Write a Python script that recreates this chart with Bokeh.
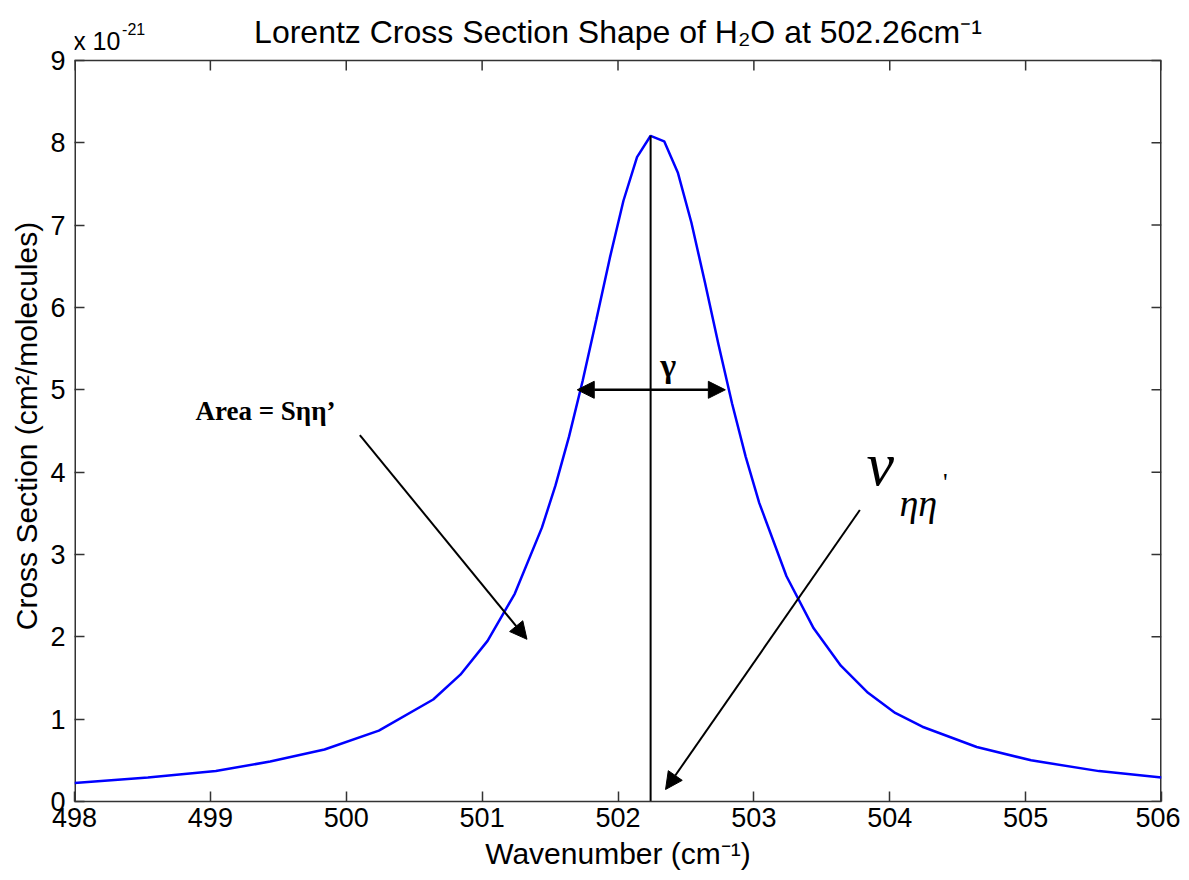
from bokeh.plotting import figure
from bokeh.models import (Label, Arrow, NormalHead, FixedTicker, Range1d, Span)
from bokeh.embed import file_html
from bokeh.resources import INLINE

# Data (cross section in units of 1e-21 cm^2/molecule)
wavenumber = [498.0, 498.54, 499.04, 499.44, 499.84, 500.24, 500.64, 500.84,
              501.04, 501.24, 501.44, 501.54, 501.64, 501.74, 501.84, 501.94,
              502.04, 502.14, 502.24, 502.34, 502.44, 502.54, 502.64, 502.74,
              502.84, 502.94, 503.04, 503.24, 503.44, 503.64, 503.84, 504.04,
              504.24, 504.64, 505.04, 505.54, 506.0]
cross_section = [0.225, 0.292, 0.370, 0.485, 0.632, 0.861, 1.239, 1.540,
                 1.951, 2.523, 3.326, 3.839, 4.434, 5.110, 5.848, 6.602,
                 7.296, 7.825, 8.085, 8.018, 7.640, 7.032, 6.303, 5.547,
                 4.830, 4.186, 3.624, 2.736, 2.103, 1.650, 1.320, 1.076,
                 0.908, 0.662, 0.500, 0.369, 0.292]
line_center = 502.24
peak_value = 8.085
x_ticks = [498, 499, 500, 501, 502, 503, 504, 505, 506]
y_ticks = [0, 1, 2, 3, 4, 5, 6, 7, 8, 9]
y_max = 9

SANS = "Liberation Sans"
SERIF = "Liberation Serif"
AXC = "#333333"

FRAME_H = 802
FRAME_W = 1087
BOTTOM = 70
Y_TOP = 9.728          # frame extends above the box to hold the title
PX = Y_TOP / FRAME_H   # data units per pixel (vertical)
PXX = (x_ticks[-1] - x_ticks[0]) / FRAME_W   # data units per pixel (horizontal)

p = figure(width=1180, height=FRAME_H + BOTTOM, output_backend="svg", toolbar_location=None,
           x_range=Range1d(498, 506), y_range=Range1d(0, Y_TOP),
           min_border_left=74, min_border_right=19, min_border_top=0,
           min_border_bottom=BOTTOM)
p.background_fill_color = "white"
p.border_fill_color = "white"
p.outline_line_color = None
p.xgrid.visible = False
p.ygrid.visible = False

for ax, ticks in ((p.xaxis[0], x_ticks), (p.yaxis[0], y_ticks)):
    ax.ticker = FixedTicker(ticks=ticks)
    ax.minor_tick_line_color = None
    ax.major_tick_in = 10
    ax.major_tick_out = 0
    ax.major_tick_line_color = AXC
    ax.major_tick_line_width = 1.5
    ax.axis_line_color = AXC
    ax.axis_line_width = 1.5
    ax.major_label_text_font = SANS
    ax.major_label_text_font_size = "27px"
    ax.major_label_text_color = "black"
    ax.axis_label_text_font = SANS
    ax.axis_label_text_font_size = "30px"
    ax.axis_label_text_font_style = "normal"
    ax.axis_label_text_color = "black"

p.xaxis[0].axis_label = "Wavenumber (cm\u207b\u00b9)"
p.xaxis[0].major_label_standoff = 6
p.xaxis[0].axis_label_standoff = 7
# non-breaking spaces shift the centred label down to the box centre
p.yaxis[0].axis_label = "Cross Section (cm\u00b2/molecules)" + "\u00a0" * 6
p.yaxis[0].major_label_standoff = 9
p.yaxis[0].axis_label_standoff = 4
p.yaxis[0].axis_line_color = None

# box: left and right sides, top edge, inward ticks on top and right
p.segment(x0=[x_ticks[0], x_ticks[-1]], y0=[0, 0], x1=[x_ticks[0], x_ticks[-1]],
          y1=[y_max, y_max], line_color=AXC, line_width=3)
p.add_layout(Span(location=y_max, dimension="width", line_color=AXC, line_width=1.5))
p.segment(x0=x_ticks, y0=[y_max] * len(x_ticks), x1=x_ticks,
          y1=[y_max - 10 * PX] * len(x_ticks), line_color=AXC, line_width=1.5)
p.segment(x0=[x_ticks[-1]] * len(y_ticks), y0=y_ticks,
          x1=[x_ticks[-1] - 10 * PXX] * len(y_ticks), y1=y_ticks,
          line_color=AXC, line_width=1.5)

# curve
p.line(wavenumber, cross_section, line_color="#0000ff", line_width=2.5)

# vertical line at line center
p.segment(x0=[line_center], y0=[0], x1=[line_center], y1=[peak_value],
          line_color="black", line_width=2)

# title
p.add_layout(Label(x=502.0, y=9.35, text="Lorentz Cross Section Shape of H\u2082O at 502.26cm\u207b\u00b9",
                   text_align="center", text_baseline="alphabetic",
                   text_font=SANS, text_font_size="32px", text_color="black"))
# exponent
p.add_layout(Label(x=497.99, y=9.24, text="x 10", text_align="left",
                   text_baseline="alphabetic", text_font=SANS,
                   text_font_size="25px", text_color="black"))
p.add_layout(Label(x=498.35, y=9.38, text="-21", text_align="left",
                   text_baseline="alphabetic", text_font=SANS,
                   text_font_size="16px", text_color="black"))

# gamma width arrow
head = dict(size=17, fill_color="black", line_color="black")
p.add_layout(Arrow(start=NormalHead(**head), end=NormalHead(**head),
                   x_start=501.70, y_start=5.0, x_end=502.79, y_end=5.0,
                   line_color="black", line_width=2.5))
p.add_layout(Label(x=502.37, y=5.30, text="\u03b3", text_align="center",
                   text_baseline="middle", text_font=SERIF, text_font_style="bold",
                   text_font_size="34px", text_color="black"))

# Area annotation
p.add_layout(Label(x=498.89, y=4.74, text="Area = S\u03b7\u03b7\u2019", text_align="left",
                   text_baseline="middle", text_font=SERIF, text_font_style="bold",
                   text_font_size="27px", text_color="black"))
p.add_layout(Arrow(end=NormalHead(**head), x_start=500.10, y_start=4.45,
                   x_end=501.33, y_end=1.97, line_color="black", line_width=2))

# nu annotation
p.add_layout(Label(x=503.93, y=4.10, text="\u03bd", text_align="center",
                   text_baseline="middle", text_font=SERIF, text_font_style="italic",
                   text_font_size="62px", text_color="black"))
p.add_layout(Label(x=504.21, y=3.62, text="\u03b7\u03b7", text_align="center",
                   text_baseline="middle", text_font=SERIF, text_font_style="italic",
                   text_font_size="38px", text_color="black"))
p.add_layout(Label(x=504.41, y=3.88, text="'", text_align="center",
                   text_baseline="middle", text_font=SERIF,
                   text_font_size="26px", text_color="black"))
p.add_layout(Arrow(end=NormalHead(**head), x_start=503.78, y_start=3.54,
                   x_end=502.35, y_end=0.146, line_color="black", line_width=2))

open("out.html", "w").write(file_html(p, INLINE))
